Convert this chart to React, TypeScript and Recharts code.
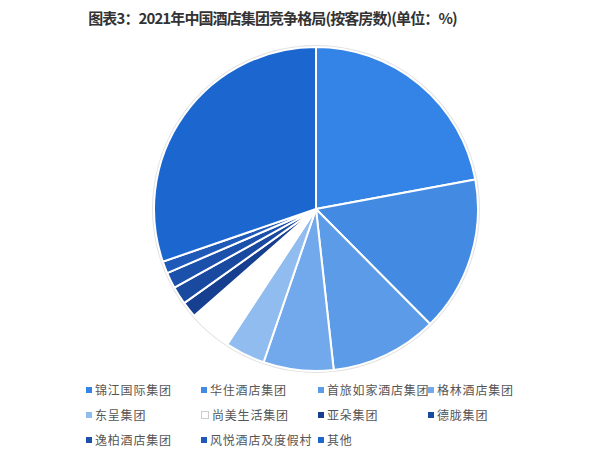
import React from "react";
import { PieChart, Pie, Cell, Legend } from "recharts";

const groups = [
  "锦江国际集团",
  "华住酒店集团",
  "首旅如家酒店集团",
  "格林酒店集团",
  "东呈集团",
  "尚美生活集团",
  "亚朵集团",
  "德胧集团",
  "逸柏酒店集团",
  "风悦酒店及度假村",
  "其他",
];

const shares = [22.1, 15.5, 10.7, 7.0, 4.0, 4.3, 1.6, 1.8, 1.6, 1.2, 30.3];

const colors = [
  "#3483e6",
  "#428ae2",
  "#5b9be8",
  "#72a9ec",
  "#90bcf0",
  "#ffffff",
  "#163f8f",
  "#1a4aa0",
  "#1c51ab",
  "#1f5ab8",
  "#1c66cf",
];

const data = groups.map((name, i) => ({ name, value: shares[i] }));

// legend column x positions, rows of 4
const colX = [86, 201, 318, 428];

function renderLegend() {
  return (
    <div style={{ position: "relative", width: 600, height: 70 }}>
      {groups.map((g, i) => {
        const col = i % 4;
        const row = Math.floor(i / 4);
        const c = colors[i];
        return (
          <div
            key={g}
            style={{
              position: "absolute",
              left: colX[col],
              top: row * 25,
              display: "flex",
              alignItems: "center",
              fontSize: 12,
              color: "#555",
              whiteSpace: "nowrap",
              letterSpacing: 0.8,
            }}
          >
            <span
              style={{
                display: "inline-block",
                width: 6,
                height: 6,
                background: c,
                border: c === "#ffffff" ? "1px solid #ccc" : "none",
                marginRight: 3,
              }}
            />
            {g}
          </div>
        );
      })}
    </div>
  );
}

export default function App() {
  return (
    <div
      style={{
        position: "absolute",
        left: 0,
        top: 0,
        width: 600,
        height: 452,
        background: "#fff",
        fontFamily: "'Noto Sans CJK SC', 'Noto Sans', sans-serif",
      }}
    >
      <div
        style={{
          position: "absolute",
          top: 7,
          left: 0,
          width: 545,
          textAlign: "center",
          fontSize: 15,
          fontWeight: "bold",
          color: "#333",
          letterSpacing: -0.9,
        }}
      >
        图表3：2021年中国酒店集团竞争格局(按客房数)(单位：%)
      </div>
      <PieChart width={600} height={452} margin={{ top: 0, right: 0, bottom: 0, left: 0 }}>
        <Pie
          data={[{ name: "edge", value: 1 }]}
          dataKey="value"
          cx={316}
          cy={209}
          innerRadius={162}
          outerRadius={164}
          fill="#e2e2e2"
          stroke="none"
          isAnimationActive={false}
          legendType="none"
        />
        <Pie
          data={data}
          dataKey="value"
          nameKey="name"
          cx={316}
          cy={209}
          outerRadius={162}
          startAngle={90}
          endAngle={-270}
          stroke="#fff"
          strokeWidth={2}
          isAnimationActive={false}
        >
          {data.map((d, i) => (
            <Cell key={d.name} fill={colors[i]} />
          ))}
        </Pie>
        <Legend
          content={renderLegend}
          wrapperStyle={{ left: 0, top: 381, width: 600 }}
        />
      </PieChart>
    </div>
  );
}
